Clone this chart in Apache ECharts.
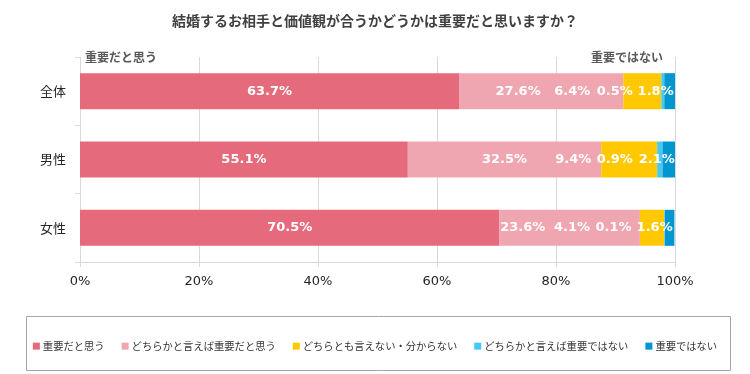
<!DOCTYPE html>
<html>
<head>
<meta charset="utf-8">
<script src="https://cdn.jsdelivr.net/npm/echarts@6/dist/echarts.min.js"></script>
<style>
html,body{margin:0;padding:0;background:#fff;}
#chart{width:750px;height:374px;}
</style>
</head>
<body>
<div id="chart"></div>
<script>
// ---- data ----
const categories = ['全体', '男性', '女性'];
const seriesNames = ['重要だと思う', 'どちらかと言えば重要だと思う', 'どちらとも言えない・分からない', 'どちらかと言えば重要ではない', '重要ではない'];
const valImportant      = [63.7, 55.1, 70.5];
const valSomewhatImp    = [27.6, 32.5, 23.6];
const valNeither        = [6.4, 9.4, 4.1];
const valSomewhatNot    = [0.5, 0.9, 0.1];
const valNotImportant   = [1.8, 2.1, 1.6];
const xTicks = [0, 20, 40, 60, 80, 100];

// ---- style ----
const colors = ['#E56B7C', '#F0A6B0', '#FFC800', '#45C8F5', '#0096D0'];
// horizontal nudges of value labels (to avoid overlaps, as in the original)
const labelShift = [
  [0, 0, 0],
  [-23, 0, -47],
  [-70, -56, -80],
  [-48, -45, -51],
  [-14, -12, -15]
];
const allValues = [valImportant, valSomewhatImp, valNeither, valSomewhatNot, valNotImportant];

const chart = echarts.init(document.getElementById('chart'), null, {renderer: 'canvas'});

const series = allValues.map((vals, si) => ({
  name: seriesNames[si],
  type: 'bar',
  stack: 'total',
  barWidth: 36,
  itemStyle: {color: colors[si]},
  label: {
    show: true,
    position: 'inside',
    color: '#fff',
    fontFamily: 'DejaVu Sans',
    fontWeight: 'bold',
    fontSize: 13,
    formatter: p => p.value.toFixed(1) + '%'
  },
  data: vals.map((v, ci) => ({value: v, label: {offset: [labelShift[si][ci], 0]}}))
}));

chart.setOption({
  animation: false,
  backgroundColor: '#fff',
  title: {
    text: '結婚するお相手と価値観が合うかどうかは重要だと思いますか？',
    left: 'center',
    top: 9,
    textStyle: {fontFamily: 'Noto Sans CJK JP', fontSize: 14, fontWeight: 'bold', color: '#404040'}
  },
  grid: {left: 80, right: 75, top: 57, bottom: 112},
  legend: {
    data: seriesNames,
    left: 'center',
    top: 336,
    icon: 'rect',
    itemWidth: 7,
    itemHeight: 7,
    itemGap: 17,
    textStyle: {fontFamily: 'Noto Sans CJK JP', fontSize: 10.3, color: '#333333', padding: [0, 0, 0, -2]}
  },
  xAxis: {
    type: 'value',
    min: xTicks[0],
    max: xTicks[xTicks.length - 1],
    interval: 20,
    axisLine: {show: true, lineStyle: {color: '#D9D9D9', width: 1}},
    axisTick: {show: true, length: 5, lineStyle: {color: '#D9D9D9'}},
    splitLine: {show: true, lineStyle: {color: '#D9D9D9', width: 1}},
    axisLabel: {
      margin: 13,
      fontFamily: 'DejaVu Sans',
      fontSize: 13,
      color: '#262626',
      formatter: '{value}%'
    }
  },
  yAxis: {
    type: 'category',
    data: categories,
    inverse: true,
    axisLine: {show: true, lineStyle: {color: '#D9D9D9', width: 1}},
    axisTick: {show: true, length: 5, lineStyle: {color: '#D9D9D9'}},
    axisLabel: {margin: 14, fontFamily: 'Noto Sans CJK JP', fontSize: 13, color: '#262626'}
  },
  graphic: [
    {
      type: 'rect',
      left: 24, top: 314,
      shape: {width: 704, height: 54},
      style: {fill: 'none', stroke: '#A6A6A6', lineWidth: 1},
      z: -1
    },
    {
      type: 'text',
      left: 85, top: 51,
      style: {text: '重要だと思う', font: 'bold 12px "Noto Sans CJK JP"', fill: '#595959'}
    },
    {
      type: 'text',
      left: 591, top: 51,
      style: {text: '重要ではない', font: 'bold 12px "Noto Sans CJK JP"', fill: '#595959'}
    }
  ],
  series: series
});
</script>
</body>
</html>
